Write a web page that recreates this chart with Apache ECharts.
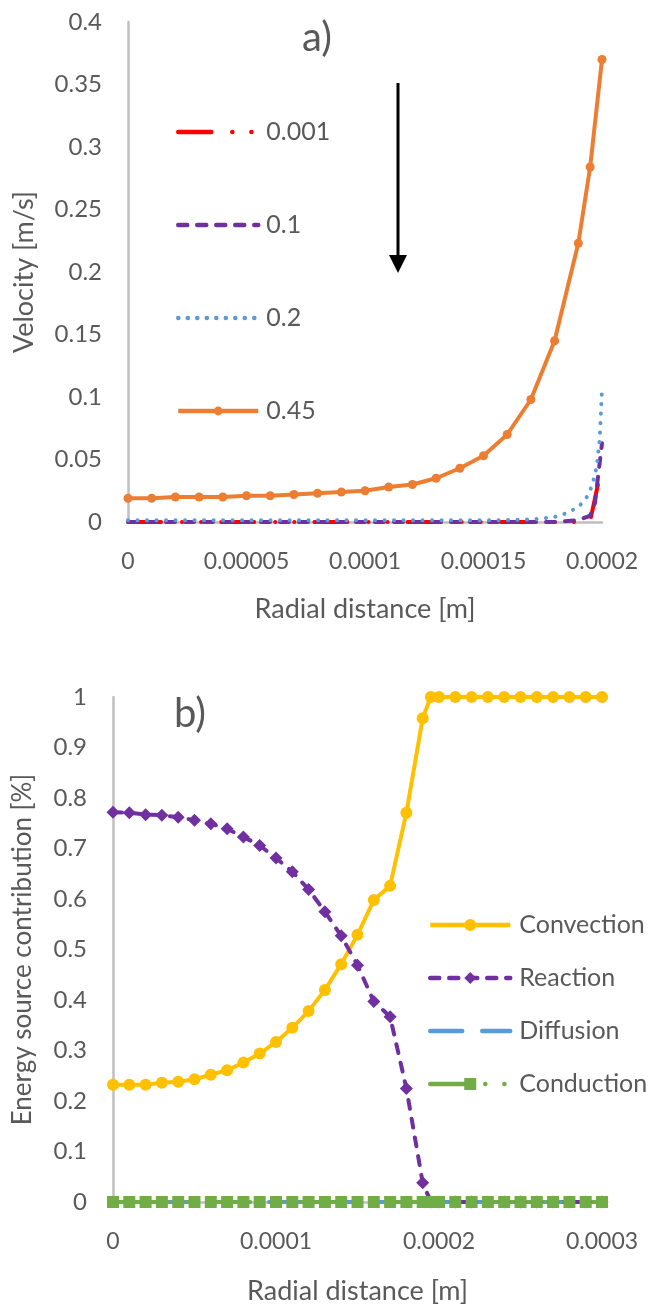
<!DOCTYPE html>
<html>
<head>
<meta charset="utf-8">
<script src="https://cdn.jsdelivr.net/npm/echarts@6/dist/echarts.min.js"></script>
<style>
  html, body { margin: 0; padding: 0; background: #fff; }
  #main { width: 651px; height: 1304px; }
</style>
</head>
<body>
<div id="main"></div>
<script>
// ---- a) velocity profiles ----
var radialA = [0, 0.00001, 0.00002, 0.00003, 0.00004, 0.00005, 0.00006, 0.00007, 0.00008, 0.00009,
  0.0001, 0.00011, 0.00012, 0.00013, 0.00014, 0.00015, 0.00016, 0.00017, 0.00018, 0.00019, 0.000195, 0.0002];
var vel045 = [0.019, 0.019, 0.020, 0.020, 0.020, 0.021, 0.021, 0.022, 0.023, 0.024,
  0.025, 0.028, 0.030, 0.035, 0.043, 0.053, 0.070, 0.098, 0.145, 0.223, 0.284, 0.370];

var radial02 = [0, 0.00016, 0.00017, 0.000175, 0.00018, 0.000185, 0.00019, 0.000193, 0.000195, 0.000197, 0.000198, 0.000199, 0.0002];
var vel02 = [0.0015, 0.0015, 0.002, 0.003, 0.004, 0.007, 0.012, 0.018, 0.025, 0.037, 0.048, 0.065, 0.107];

var radial01 = [0, 0.00018, 0.00019, 0.000195, 0.000197, 0.0002];
var vel01 = [0, 0, 0.0015, 0.005, 0.015, 0.063];

var radial0001 = [0, 0.00019, 0.000195, 0.0002];
var vel0001 = [0, 0, 0.001, 0.045];

var velNames = ["0.001", "0.1", "0.2", "0.45"];

// ---- b) energy source contribution ----
var radialB = [0, 0.00001, 0.00002, 0.00003, 0.00004, 0.00005, 0.00006, 0.00007, 0.00008, 0.00009,
  0.0001, 0.00011, 0.00012, 0.00013, 0.00014, 0.00015, 0.00016, 0.00017, 0.00018, 0.00019, 0.000195,
  0.0002, 0.00021, 0.00022, 0.00023, 0.00024, 0.00025, 0.00026, 0.00027, 0.00028, 0.00029, 0.0003];
var convection = [0.232, 0.232, 0.232, 0.236, 0.238, 0.243, 0.252, 0.261, 0.276, 0.294,
  0.317, 0.345, 0.378, 0.420, 0.471, 0.529, 0.598, 0.626, 0.771, 0.958, 1,
  1, 1, 1, 1, 1, 1, 1, 1, 1, 1, 1];
var reaction = [0.772, 0.771, 0.767, 0.766, 0.762, 0.756, 0.749, 0.739, 0.723, 0.706,
  0.681, 0.654, 0.619, 0.575, 0.527, 0.469, 0.397, 0.367, 0.225, 0.038, 0,
  0, 0, 0, 0, 0, 0, 0, 0, 0, 0, 0];
var diffusion = [0, 0, 0, 0, 0, 0, 0, 0, 0, 0, 0, 0, 0, 0, 0, 0, 0, 0, 0, 0, 0,
  0, 0, 0, 0, 0, 0, 0, 0, 0, 0, 0];
var conduction = [0, 0, 0, 0, 0, 0, 0, 0, 0, 0, 0, 0, 0, 0, 0, 0, 0, 0, 0, 0, 0,
  0, 0, 0, 0, 0, 0, 0, 0, 0, 0, 0];
var sourceNames = ["Convection", "Reaction", "Diffusion", "Conduction"];

function pairs(xs, ys) {
  return xs.map(function (x, i) { return [x, ys[i]]; });
}

var FONT = "Lato";
var TXT = "#595959";
var AXIS = "#bfbfbf";

function xFmt(v) { return String(+v.toFixed(7)); }

var myChart = echarts.init(document.getElementById("main"));

myChart.setOption({
  animation: false,
  textStyle: { fontFamily: FONT },
  grid: [
    { left: 128, top: 22, width: 474, height: 500, outerBoundsMode: "none" },
    { left: 113, top: 697, width: 489, height: 505, outerBoundsMode: "none" }
  ],
  xAxis: [
    {
      gridIndex: 0, type: "value", min: 0, max: 0.0002, interval: 0.00005,
      name: "Radial distance [m]", nameLocation: "middle", nameGap: 74,
      nameTextStyle: { color: TXT, fontSize: 27, fontFamily: FONT },
      axisLine: { lineStyle: { color: AXIS, width: 2.5 } },
      axisTick: { show: false }, splitLine: { show: false },
      axisLabel: { color: TXT, fontSize: 23, margin: 28, formatter: xFmt, fontFamily: FONT }
    },
    {
      gridIndex: 1, type: "value", min: 0, max: 0.0003, interval: 0.0001,
      name: "Radial distance [m]", nameLocation: "middle", nameGap: 76,
      nameTextStyle: { color: TXT, fontSize: 27, fontFamily: FONT },
      axisLine: { lineStyle: { color: AXIS, width: 2.5 } },
      axisTick: { show: false }, splitLine: { show: false },
      axisLabel: { color: TXT, fontSize: 23, margin: 28, formatter: xFmt, fontFamily: FONT }
    }
  ],
  yAxis: [
    {
      gridIndex: 0, type: "value", min: 0, max: 0.4, interval: 0.05,
      name: "Velocity [m/s]", nameLocation: "middle", nameGap: 90,
      nameTextStyle: { color: TXT, fontSize: 27, fontFamily: FONT },
      axisLine: { show: true, lineStyle: { color: AXIS, width: 2.5 } },
      axisTick: { show: false }, splitLine: { show: false },
      axisLabel: { color: TXT, fontSize: 24, margin: 26, fontFamily: FONT }
    },
    {
      gridIndex: 1, type: "value", min: 0, max: 1, interval: 0.1,
      name: "Energy source contribution [%]", nameLocation: "middle", nameGap: 77,
      nameTextStyle: { color: TXT, fontSize: 26, fontFamily: FONT },
      axisLine: { show: true, lineStyle: { color: AXIS, width: 2.5 } },
      axisTick: { show: false }, splitLine: { show: false },
      axisLabel: { color: TXT, fontSize: 24, margin: 26, fontFamily: FONT }
    }
  ],
  legend: [
    {
      orient: "vertical", left: 176, top: 119, padding: 0,
      itemWidth: 80, itemHeight: 11, itemGap: 67,
      lineStyle: { width: 4.5 },
      textStyle: { color: TXT, fontSize: 25, lineHeight: 26, fontFamily: FONT, padding: [0, 0, 0, 3] },
      data: [
        { name: velNames[0], itemStyle: { opacity: 0 } },
        { name: velNames[1], itemStyle: { opacity: 0 } },
        { name: velNames[2], itemStyle: { opacity: 0 } },
        { name: velNames[3] }
      ]
    },
    {
      orient: "vertical", left: 428, top: 912, padding: 0,
      itemWidth: 80, itemHeight: 15, itemGap: 27,
      lineStyle: { width: 4.5 },
      textStyle: { color: TXT, fontSize: 25, lineHeight: 26, fontFamily: FONT, padding: [0, 0, 0, 4] },
      data: [
        { name: sourceNames[0] },
        { name: sourceNames[1] },
        { name: sourceNames[2], itemStyle: { opacity: 0 } },
        { name: sourceNames[3] }
      ]
    }
  ],
  graphic: [
    { type: "text", left: 302, top: 18, style: { text: "a)", fill: TXT, font: "40px Lato" } },
    { type: "text", left: 174, top: 694, style: { text: "b)", fill: TXT, font: "40px Lato" } },
    { type: "line", shape: { x1: 398, y1: 83, x2: 398, y2: 258 }, style: { stroke: "#000", lineWidth: 3 } },
    { type: "polygon", shape: { points: [[389, 255], [407, 255], [398, 273]] }, style: { fill: "#000" } }
  ],
  series: [
    {
      name: velNames[0], type: "line", xAxisIndex: 0, yAxisIndex: 0,
      data: pairs(radial0001, vel0001), symbol: "none",
      lineStyle: { color: "#ff0000", width: 4, type: [33, 21, 0.1, 19, 0.1, 20], cap: "round" },
      itemStyle: { color: "#ff0000" }
    },
    {
      name: velNames[1], type: "line", xAxisIndex: 0, yAxisIndex: 0,
      data: pairs(radial01, vel01), symbol: "none",
      lineStyle: { color: "#7030a0", width: 4, type: [9, 10], cap: "round" },
      itemStyle: { color: "#7030a0" }
    },
    {
      name: velNames[2], type: "line", xAxisIndex: 0, yAxisIndex: 0,
      data: pairs(radial02, vel02), symbol: "none",
      lineStyle: { color: "#5b9bd5", width: 4, type: [0.1, 9.4], cap: "round" },
      itemStyle: { color: "#5b9bd5" }
    },
    {
      name: velNames[3], type: "line", xAxisIndex: 0, yAxisIndex: 0,
      data: pairs(radialA, vel045), symbol: "circle", symbolSize: 9,
      lineStyle: { color: "#ed7d31", width: 4 },
      itemStyle: { color: "#ed7d31" }
    },
    {
      name: sourceNames[0], type: "line", xAxisIndex: 1, yAxisIndex: 1,
      data: pairs(radialB, convection), symbol: "circle", symbolSize: 12,
      lineStyle: { color: "#ffc000", width: 4 },
      itemStyle: { color: "#ffc000" }
    },
    {
      name: sourceNames[1], type: "line", xAxisIndex: 1, yAxisIndex: 1,
      data: pairs(radialB, reaction), symbol: "diamond", symbolSize: 13,
      lineStyle: { color: "#7030a0", width: 4, type: [9, 10], cap: "round" },
      itemStyle: { color: "#7030a0" }
    },
    {
      name: sourceNames[2], type: "line", xAxisIndex: 1, yAxisIndex: 1,
      data: pairs(radialB, diffusion), symbol: "none",
      lineStyle: { color: "#5b9bd5", width: 4, type: [32, 20], cap: "round" },
      itemStyle: { color: "#5b9bd5" }
    },
    {
      name: sourceNames[3], type: "line", xAxisIndex: 1, yAxisIndex: 1,
      data: pairs(radialB, conduction), symbol: "rect", symbolSize: 12,
      lineStyle: { color: "#70ad47", width: 4, type: [43, 12, 0.1, 19, 0.1, 20], cap: "round" },
      itemStyle: { color: "#70ad47" }
    }
  ]
});
</script>
</body>
</html>
